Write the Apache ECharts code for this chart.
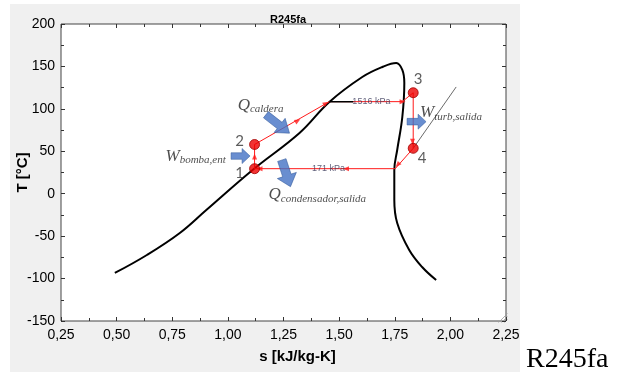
<!DOCTYPE html>
<html>
<head>
<meta charset="utf-8">
<script src="https://cdn.jsdelivr.net/npm/echarts@6/dist/echarts.min.js"></script>
<style>html,body{margin:0;padding:0;background:#fff}#c{width:618px;height:379px}</style>
</head>
<body>
<div id="c"></div>
<script>
// ---- data (s in kJ/kg-K, T in °C) ----
const domeS = [0.492, 0.636, 0.784, 0.903, 1.111, 1.322, 1.456, 1.604, 1.694, 1.757, 1.784, 1.793, 1.784, 1.761, 1.748, 1.748, 1.761, 1.815, 1.873, 1.936];
const domeT = [-93.4, -72.2, -46.3, -19.2, 28, 71.6, 108.1, 137.5, 149.3, 154, 145.8, 130.5, 90.4, 51.5, 28, -7.4, -34.5, -66.3, -86.4, -101.7];

const cycleS = [1.12, 1.12, 1.456, 1.784, 1.833, 1.833, 1.752, 1.12];
const cycleT = [29.5, 58, 108.5, 108.5, 119, 53.5, 29.5, 29.5];

const isoBlackS = [1.456, 1.564];
const isoBlackT = [108.5, 108.5];

const guideS = [1.833, 2.026];
const guideT = [53.5, 125.8];

const stateNames = ['1', '2', '3', '4'];
const stateS = [1.12, 1.12, 1.833, 1.833];
const stateT = [29.5, 58, 119, 53.5];
const stateLabelS = [1.053, 1.053, 1.855, 1.873];
const stateLabelT = [24.4, 62, 135.2, 42.1];

const flowS = [1.12, 1.314, 1.441, 1.785, 1.83, 1.763, 1.531, 1.142];
const flowT = [44, 86, 106.5, 108.5, 61.3, 34, 29.5, 29.5];
const flowDir = [0, -60, -60, -90, 180, 138, 90, 90];

const pressureLabels = ['1516 kPa', '171 kPa'];
const pressureS = [1.645, 1.452];
const pressureT = [108.4, 29.5];

const energyLabels = ['{q|Q}{s|caldera}', '{q|W}{s|bomba,ent}', '{q|Q}{s|condensador,salida}', '{q|W}{s|turb,salida}'];
const energyS = [1.147, 0.855, 1.402, 2.003];
const energyT = [104.5, 44.4, -1.5, 95.1];

const blockArrowS = [1.224, 1.057, 1.262, 1.848];
const blockArrowT = [82.2, 44.4, 24, 84.9];
const blockArrowDir = [-38, 0, -72, 0];

const xTickLabels = ['0,25', '0,50', '0,75', '1,00', '1,25', '1,50', '1,75', '2,00', '2,25'];
const yTickLabels = ['-150', '-100', '-50', '0', '50', '100', '150', '200'];
const chartTitle = 'R245fa';
const xName = 's [kJ/kg-K]';
const yName = 'T [°C]';

// ---- chart ----
const zip = (a, b) => a.map((v, i) => [v, b[i]]);
const chart = echarts.init(document.getElementById('c'), null, { renderer: 'canvas' });
const axisFont = { fontFamily: 'Liberation Sans, Arial', fontSize: 14, color: '#000' };
const tickCommon = {
  axisLine: { show: false, onZero: false },
  axisTick: { show: true, inside: true, length: 4, lineStyle: { color: '#333' } },
  minorTick: { show: true, splitNumber: 2, length: 3, lineStyle: { color: '#333' } },
  splitLine: { show: false }
};
const arrowPath = 'path://M0,28 L58,28 L58,0 L100,50 L58,100 L58,72 L0,72 Z';
const serif = 'Liberation Serif, Times New Roman, serif';

chart.setOption({
  backgroundColor: '#ffffff',
  animation: false,
  graphic: [
    { type: 'rect', left: 10, top: 4, z: -10, silent: true, shape: { width: 510, height: 368 }, style: { fill: '#f0f0f0' } },
    { type: 'group', left: 496, top: 311, z: 100, silent: true, children: [
      { type: 'line', shape: { x1: 9, y1: 0, x2: 0, y2: 9 }, style: { stroke: '#999', lineWidth: 0.8 } },
      { type: 'line', shape: { x1: 9, y1: 3, x2: 3, y2: 9 }, style: { stroke: '#999', lineWidth: 0.8 } },
      { type: 'line', shape: { x1: 9, y1: 6, x2: 6, y2: 9 }, style: { stroke: '#999', lineWidth: 0.8 } }
    ] }
  ],
  title: [
    { text: chartTitle, left: 265, top: 9, textStyle: { fontFamily: 'Liberation Sans, Arial', fontWeight: 'bold', fontSize: 11, color: '#000' } },
    { text: chartTitle, left: 521, top: 341, textStyle: { fontFamily: serif, fontWeight: 'normal', fontSize: 28, color: '#000' } }
  ],
  grid: { left: 61, top: 24, width: 445, height: 297, show: true, backgroundColor: '#fff', borderColor: '#444', borderWidth: 1, containLabel: false, outerBoundsMode: 'none' },
  xAxis: [
    Object.assign({
      type: 'value', min: 0.25, max: 2.25, interval: 0.25, position: 'bottom',
      name: xName, nameLocation: 'middle', nameGap: 28, nameMoveOverlap: false,
      nameTextStyle: { fontFamily: 'Liberation Sans, Arial', fontWeight: 'bold', fontSize: 15, color: '#000', padding: [0, 0, 0, 28] },
      axisLabel: Object.assign({ margin: 7, formatter: v => xTickLabels[Math.round((v - 0.25) / 0.25)] }, axisFont)
    }, tickCommon),
    Object.assign({
      type: 'value', min: 0.25, max: 2.25, interval: 0.25, position: 'top', axisLabel: { show: false }
    }, tickCommon)
  ],
  yAxis: [
    Object.assign({
      type: 'value', min: -150, max: 200, interval: 50, position: 'left',
      name: yName, nameLocation: 'middle', nameGap: 31, nameMoveOverlap: false,
      nameTextStyle: { fontFamily: 'Liberation Sans, Arial', fontWeight: 'bold', fontSize: 15, color: '#000' },
      axisLabel: Object.assign({ margin: 6, formatter: v => yTickLabels[Math.round((v + 150) / 50)] }, axisFont)
    }, tickCommon),
    Object.assign({
      type: 'value', min: -150, max: 200, interval: 50, position: 'right', axisLabel: { show: false }
    }, tickCommon)
  ],
  series: [
    { type: 'line', data: zip(domeS, domeT), smooth: 0.4, showSymbol: false, lineStyle: { color: '#000', width: 2 }, z: 2 },
    { type: 'line', data: zip(guideS, guideT), showSymbol: false, lineStyle: { color: '#444', width: 0.8 }, z: 2 },
    { type: 'line', data: zip(cycleS, cycleT), showSymbol: false, lineStyle: { color: '#ff1a1a', width: 1 }, z: 3 },
    { type: 'line', data: zip(isoBlackS, isoBlackT), showSymbol: false, lineStyle: { color: '#000', width: 1.5 }, z: 4 },
    { type: 'scatter', data: zip(flowS, flowT).map((p, i) => ({ value: p, symbolRotate: flowDir[i] })),
      symbol: 'triangle', symbolSize: [5, 6], itemStyle: { color: '#ff1a1a' }, z: 5 },
    { type: 'scatter', data: zip(stateS, stateT), symbol: 'circle', symbolSize: 10,
      itemStyle: { color: '#ee0000', borderColor: '#a00000', borderWidth: 1 }, z: 6 },
    { type: 'scatter', data: zip(stateLabelS, stateLabelT).map((p, i) => ({ value: p, label: { formatter: stateNames[i] } })),
      symbolSize: 1, itemStyle: { color: 'transparent' },
      label: { show: true, position: 'inside', fontFamily: 'Lato, Noto Sans', fontSize: 15, color: '#333' }, z: 7 },
    { type: 'scatter', data: zip(pressureS, pressureT).map((p, i) => ({ value: p, label: { formatter: pressureLabels[i] } })),
      symbolSize: 1, itemStyle: { color: 'transparent' },
      label: { show: true, position: 'inside', fontFamily: 'Liberation Sans, Arial', fontSize: 9, color: '#3a3a5a' }, z: 7 },
    { type: 'scatter', data: zip(blockArrowS, blockArrowT).map((p, i) => ({ value: p, symbolRotate: blockArrowDir[i], symbolSize: i === 0 ? [30, 18] : (i === 2 ? [28, 20] : [19, 15]) })),
      symbol: arrowPath, itemStyle: { color: '#4472c4', borderColor: '#2f5597', borderWidth: 0.6 }, z: 8 },
    { type: 'scatter', data: zip(energyS, energyT).map((p, i) => ({ value: p, label: { formatter: energyLabels[i] } })),
      symbolSize: 1, itemStyle: { color: 'transparent' },
      label: { show: true, position: 'inside', color: '#222',
        rich: {
          q: { fontFamily: serif, fontStyle: 'italic', fontSize: 17, color: '#222' },
          s: { fontFamily: serif, fontStyle: 'italic', fontSize: 11, color: '#222', padding: [9, 0, 0, 0] }
        } }, z: 9 }
  ]
});
</script>
</body>
</html>
